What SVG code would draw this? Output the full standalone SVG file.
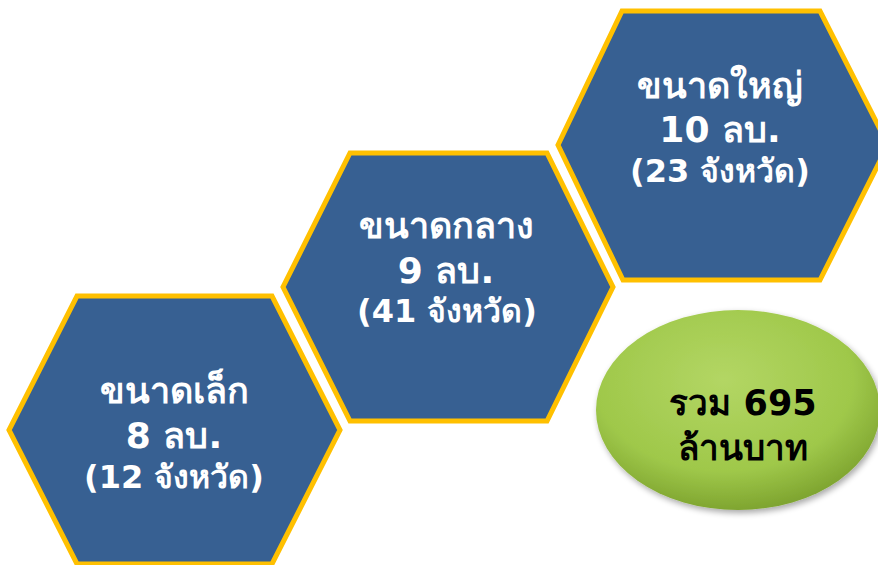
<svg xmlns="http://www.w3.org/2000/svg" width="878" height="565" viewBox="0 0 878 565">
<defs>
<radialGradient id="green" cx="0.45" cy="0.35" r="0.65">
<stop offset="0" stop-color="#b3d664"/>
<stop offset="0.7" stop-color="#9fc84a"/>
<stop offset="1" stop-color="#7fa530"/>
</radialGradient>
<filter id="sh" x="-20%" y="-20%" width="140%" height="140%">
<feGaussianBlur in="SourceAlpha" stdDeviation="3"/>
<feOffset dx="2" dy="3"/>
<feComponentTransfer><feFuncA type="linear" slope="0.35"/></feComponentTransfer>
<feMerge><feMergeNode/><feMergeNode in="SourceGraphic"/></feMerge>
</filter>
</defs>
<style>
.hex{fill:#376092;stroke:#FFC000;stroke-width:5;stroke-linejoin:miter}
.t{font-family:"DejaVu Sans","Noto Sans",sans-serif;font-weight:bold;text-anchor:middle}
.w{fill:#ffffff}
.b{fill:#000000}
.big{font-size:36px}
.sm{font-size:32px}
.el{font-size:35px}
</style>
<rect width="878" height="565" fill="#ffffff"/>
<g id="hex-large">
<polygon class="hex" points="622,11 820,11 888,145 820,280 623,280 558,145"/>
<text class="t w big" x="720" y="98">ขนาดใหญ่</text>
<text class="t w big" x="720" y="142">10 ลบ.</text>
<text class="t w sm" x="720" y="182">(23 จังหวัด)</text>
</g>
<g id="hex-medium">
<polygon class="hex" points="350,153 547,153 613,287 547,421 350,421 283,287"/>
<text class="t w big" x="446" y="238">ขนาดกลาง</text>
<text class="t w big" x="446" y="283">9 ลบ.</text>
<text class="t w sm" x="447" y="322">(41 จังหวัด)</text>
</g>
<g id="hex-small">
<polygon class="hex" points="77,296 272,296 340,430 272,564 77,564 9,430"/>
<text class="t w big" x="174" y="403">ขนาดเล็ก</text>
<text class="t w big" x="174" y="448">8 ลบ.</text>
<text class="t w sm" x="174" y="488">(12 จังหวัด)</text>
</g>
<g id="total">
<ellipse cx="738" cy="410" rx="142" ry="100" fill="url(#green)" filter="url(#sh)"/>
<text class="t b el" x="743" y="415">รวม 695</text>
<text class="t b el" x="743" y="460">ล้านบาท</text>
</g>
<g id="connectors"/>
</svg>
